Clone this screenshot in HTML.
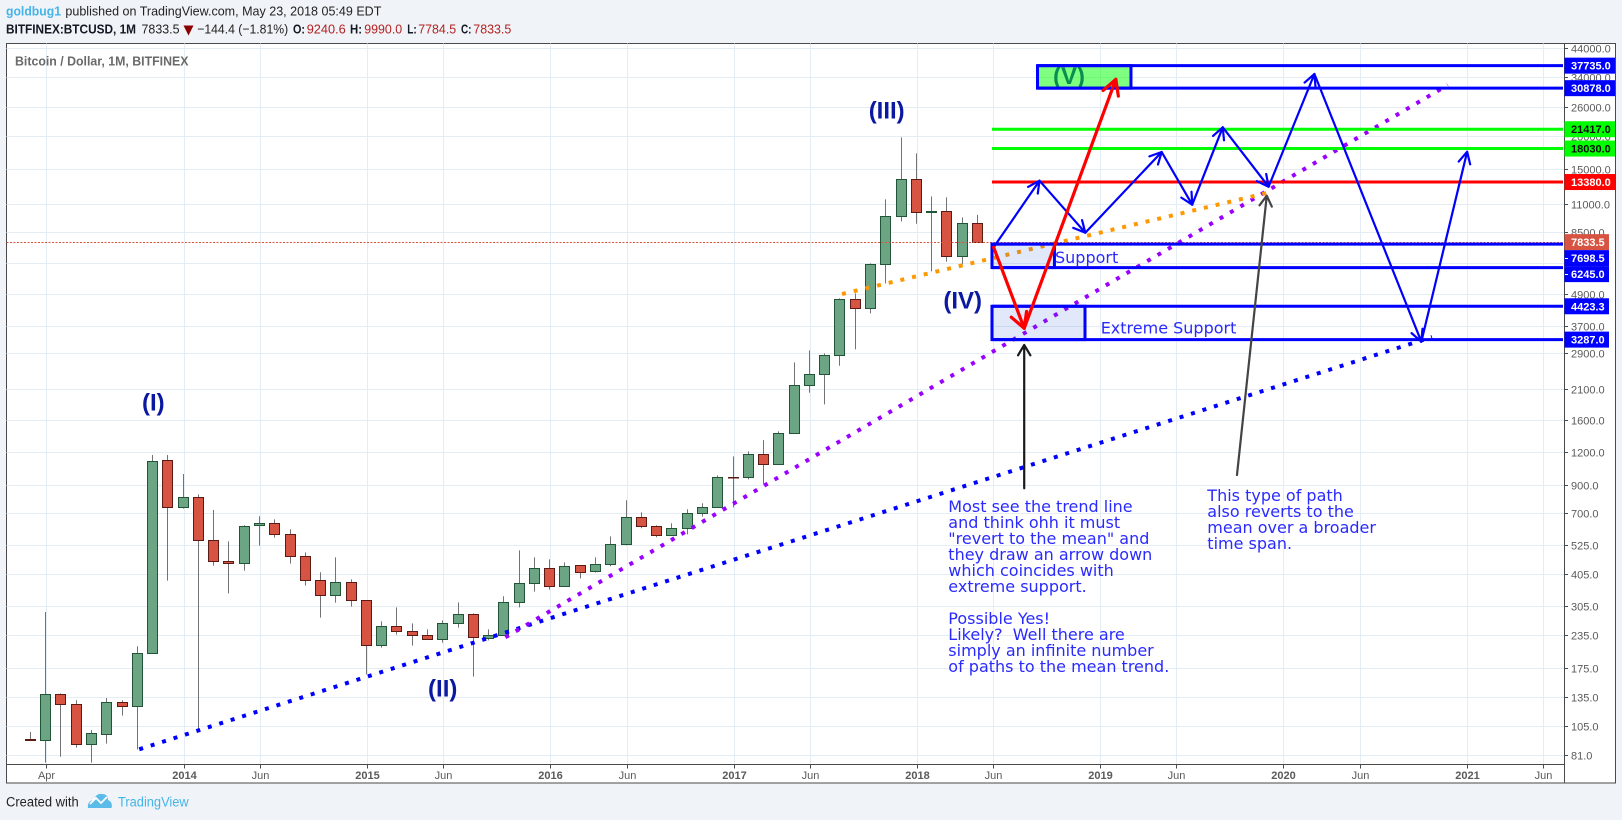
<!DOCTYPE html>
<html lang="en">
<head>
<meta charset="utf-8">
<title>BTCUSD monthly chart</title>
<style>
html,body{margin:0;padding:0;background:#f0f3f7;}
body{width:1622px;height:820px;overflow:hidden;}
svg{display:block;}
.hd{font-family:"Liberation Sans",sans-serif;font-size:13px;fill:#222;}
.hb{font-family:"Liberation Sans",sans-serif;font-size:13px;font-weight:bold;fill:#131722;}
.hr{font-family:"Liberation Sans",sans-serif;font-size:13px;fill:#b22222;}
.wave{font-family:"Liberation Sans",sans-serif;font-size:24px;font-weight:bold;fill:#0a18a2;text-anchor:middle;}
.note{font-family:"DejaVu Sans",sans-serif;font-size:16px;fill:#2a2aff;}
</style>
</head>
<body>
<svg id="chart" xmlns="http://www.w3.org/2000/svg" width="1622" height="820" viewBox="0 0 1622 820">
  <rect x="0" y="0" width="1622" height="820" fill="#f0f3f7"/>

  <g>
    <text x="6" y="15.7" textLength="55" lengthAdjust="spacingAndGlyphs" font-family="Liberation Sans, sans-serif" font-size="13" font-weight="bold" fill="#46b4e8">goldbug1</text>
    <text class="hd" x="65.4" y="15.7" textLength="316" lengthAdjust="spacingAndGlyphs">published on TradingView.com, May 23, 2018 05:49 EDT</text>
    <text class="hb" x="6" y="33.7" textLength="130" lengthAdjust="spacingAndGlyphs">BITFINEX:BTCUSD, 1M</text>
    <text class="hd" x="141.5" y="33.7" textLength="38" lengthAdjust="spacingAndGlyphs">7833.5</text>
    <polygon points="183.5,25.5 193.5,25.5 188.5,35.5" fill="#8b0000"/>
    <text class="hd" x="197.2" y="33.7" textLength="91" lengthAdjust="spacingAndGlyphs">−144.4 (−1.81%)</text>
    <text class="hb" x="293" y="33.7" textLength="12" lengthAdjust="spacingAndGlyphs">O:</text>
    <text class="hr" x="306.7" y="33.7" textLength="39" lengthAdjust="spacingAndGlyphs">9240.6</text>
    <text class="hb" x="350" y="33.7" textLength="12" lengthAdjust="spacingAndGlyphs">H:</text>
    <text class="hr" x="364.2" y="33.7" textLength="38" lengthAdjust="spacingAndGlyphs">9990.0</text>
    <text class="hb" x="407.2" y="33.7" textLength="9.5" lengthAdjust="spacingAndGlyphs">L:</text>
    <text class="hr" x="418.2" y="33.7" textLength="38" lengthAdjust="spacingAndGlyphs">7784.5</text>
    <text class="hb" x="461" y="33.7" textLength="10.5" lengthAdjust="spacingAndGlyphs">C:</text>
    <text class="hr" x="473.3" y="33.7" textLength="38" lengthAdjust="spacingAndGlyphs">7833.5</text>
  </g>

  <rect x="6.5" y="43.5" width="1609" height="739.5" fill="#ffffff" stroke="#4a4a4a" stroke-width="1"/>

  <g id="grid"></g>

  <text x="15" y="65.3" textLength="173.5" lengthAdjust="spacingAndGlyphs" font-family="Liberation Sans, sans-serif" font-size="13" font-weight="bold" fill="#6a6a6a">Bitcoin / Dollar, 1M, BITFINEX</text>

  <g id="candles"></g>
  <g id="priceLine"></g>
  <g id="trends"></g>

  <text class="wave" x="1069" y="84" style="fill:#0c1ea0">(V)</text>

  <g id="zones"></g>
  <g id="levels"></g>
  <g id="arrows"></g>

  <g>
    <text class="wave" x="153.3" y="410.5">(I)</text>
    <text class="wave" x="442.7" y="696.5">(II)</text>
    <text class="wave" x="886.7" y="118.5">(III)</text>
    <text class="wave" x="962.7" y="308.5">(IV)</text>
  </g>

  <g>
    <text class="note" x="1055" y="263">Support</text>
    <text class="note" x="1100.7" y="333.3">Extreme Support</text>
    <g>
      <text class="note" x="948.3" y="512">Most see the trend line</text>
      <text class="note" x="948.3" y="528">and think ohh it must</text>
      <text class="note" x="948.3" y="544">"revert to the mean" and</text>
      <text class="note" x="948.3" y="560">they draw an arrow down</text>
      <text class="note" x="948.3" y="576">which coincides with</text>
      <text class="note" x="948.3" y="592">extreme support.</text>
      <text class="note" x="948.3" y="624">Possible Yes!</text>
      <text class="note" x="948.3" y="640" xml:space="preserve">Likely?  Well there are</text>
      <text class="note" x="948.3" y="656">simply an infinite number</text>
      <text class="note" x="948.3" y="672">of paths to the mean trend.</text>
    </g>
    <g>
      <text class="note" x="1207.3" y="501">This type of path</text>
      <text class="note" x="1207.3" y="517">also reverts to the</text>
      <text class="note" x="1207.3" y="533">mean over a broader</text>
      <text class="note" x="1207.3" y="549">time span.</text>
    </g>
  </g>

  <g id="axes"></g>
  <g id="badges"></g>

  <g>
    <text x="6" y="806.7" textLength="72.7" lengthAdjust="spacingAndGlyphs" font-family="Liberation Sans, sans-serif" font-size="13.5" fill="#222">Created with</text>
    <g>
      <path d="M88 808 Q87 801 94 800 Q96 793 102 794 Q108 794 108 800 Q113 802 111.5 808 Z" fill="#5bbbe9"/>
      <path d="M90 804 L96 798 L101 803 L107 797" fill="none" stroke="#ffffff" stroke-width="1.8"/>
    </g>
    <text x="118" y="806.7" textLength="70.7" lengthAdjust="spacingAndGlyphs" font-family="Liberation Sans, sans-serif" font-size="13.5" fill="#46b4e8">TradingView</text>
  </g>
</svg>

<script>
// ---- Candle data (monthly, BITFINEX:BTCUSD) ----
const months = ['Mar 2013','Apr 2013','May 2013','Jun 2013','Jul 2013','Aug 2013','Sep 2013','Oct 2013','Nov 2013','Dec 2013',
 'Jan 2014','Feb 2014','Mar 2014','Apr 2014','May 2014','Jun 2014','Jul 2014','Aug 2014','Sep 2014','Oct 2014','Nov 2014','Dec 2014',
 'Jan 2015','Feb 2015','Mar 2015','Apr 2015','May 2015','Jun 2015','Jul 2015','Aug 2015','Sep 2015','Oct 2015','Nov 2015','Dec 2015',
 'Jan 2016','Feb 2016','Mar 2016','Apr 2016','May 2016','Jun 2016','Jul 2016','Aug 2016','Sep 2016','Oct 2016','Nov 2016','Dec 2016',
 'Jan 2017','Feb 2017','Mar 2017','Apr 2017','May 2017','Jun 2017','Jul 2017','Aug 2017','Sep 2017','Oct 2017','Nov 2017','Dec 2017',
 'Jan 2018','Feb 2018','Mar 2018','Apr 2018','May 2018'];
const opens = [93.4,92.6,139.4,127.6,89.3,97.6,129.9,125.3,201,1121.5,
 737.8,806.6,549.8,456.1,448,628.5,639.8,580,476.8,385,336.9,378.2,
 322.2,215.8,255.6,244.5,235.9,227.6,262.5,284.4,229.7,235.9,316.5,374.9,
 428.5,365,440.1,417.2,444,530.5,675,622.9,574.9,612,699.4,737.8,
 966,963.3,1182,1081.5,1425.6,2186,2411,2856,4703,4341,6424,9852,
 13698,10209,10301,6899,9240.6];
const highs = [99.7,290.4,140.7,132.2,101.5,135,132.2,213.9,1176,1176,
 992.9,828.4,720.4,545,628.5,681,663,606.5,494,413.5,472.6,388.4,
 322.2,267.2,302.7,262.5,248.8,269.6,316.5,286.9,248.8,333.9,503,472.6,
 464.2,452,440.1,472.6,569.8,785.3,705.6,628.5,639.8,724.8,764.6,981.1,
 1162,1214,1343,1451,2683,2986,2907,4746,4962,6482,11462,19912,
 17269,11773,11669,9764,9990];
const lows = [92.3,75.9,80,86.7,75.9,89.9,115.3,85.4,201,383.9,
 729,101.5,438.8,342.9,419.7,524.3,563,446.7,367.2,276.1,315.6,304.5,
 166.6,211.4,237.3,215.1,227.6,221,252.6,163.2,225.6,235.9,302.7,348,
 354.3,365,391.9,412.2,436.2,525.8,612,564.8,574.9,580,679,737.8,
 737.8,946,905,1081.5,1425.6,2048,1846,2605,3013,4152,5424,9424,
 9229,6035,6579,6424,7784.5];
const closes = [92.3,139.4,127.6,89.3,98.5,129.9,125.3,201,1111.6,737.8,
 806.6,549.8,456.1,448,622.9,639.8,580,476.8,385,336.9,378.2,322.2,
 215.8,255.6,244.5,235.9,227.6,262.5,284.4,231.8,235.9,316.5,374.9,428.5,
 365,436.2,413.5,444,530.5,675,622.9,574.9,612,699.4,737.8,963.8,
 961,1182,1081.5,1425.6,2186,2411,2856,4703,4341,6424,9852,13698,
 10209,10331,6899,9240.6,7833.5];

// ---- Axis labels ----
const priceTicks = [44000,34000,26000,20000,15000,11000,8500,6500,4900,3700,2900,2100,1600,1200,900,700,525,405,305,235,175,135,105,81];
const timeTickMonths = [1,10,15,22,27,34,39,46,51,58,63,70,75,82,87,94,99];
const timeTickLabels = ['Apr','2014','Jun','2015','Jun','2016','Jun','2017','Jun','2018','Jun','2019','Jun','2020','Jun','2021','Jun'];

// ---- Horizontal price levels and their kinds ----
const levelPrices = [37735,30878,21417,18030,13380,7698.5,6245,4423.3,3287];
const levelKinds = ['blue','blue','green','green','red','blue','blue','blue','blue'];
const levelStartMonths = [65.87,65.87,62.89,62.89,62.89,62.89,62.89,62.89,62.89];
const lastPrice = 7833.5;

// ---- Zones (month range, price range) ----
const zoneStartMonths = [65.87,62.89,62.89];
const zoneEndMonths = [71.99,66.98,68.98];
const zoneTopPrices = [37735,7698.5,4423.3];
const zoneBottomPrices = [30878,6245,3287];
const zoneKinds = ['target','support','support'];
const zoneNames = ['wave-v-target-zone','support-zone','extreme-support-zone'];

// ---- Dotted trend lines (month, price endpoints) ----
const trendStartMonths = [7.06,31.03,53.07];
const trendStartPrices = [85.45,231.7,4934];
const trendEndMonths = [91.7,92.73,81.35];
const trendEndPrices = [3364,31760,12319];
const trendNames = ['long-term-trend-line','mean-trend-line','short-term-trend-line'];

// ---- Projected paths (month, price vertices) ----
const bluePathMonths = [63,66,69,74,76,78,81,84,91,94];
const bluePathPrices = [7480,13540,8520,17484,10933,21788,12835,35027,3226,17532];
const redPathMonths = [63,65,71];
const redPathPrices = [7480,3635,33413];
const blackArrowMonths = [65,65];
const blackArrowPrices = [874,3133];
const grayArrowMonths = [78.93,80.88];
const grayArrowPrices = [984,11846];

// ---- Axis functions ----
function xScale(m){ return 31.4 + 15.274 * m; }
function yScale(p){ return 755.3 - 112.25 * Math.log(p / 81); }
function snap(v){ return Math.round(v - 0.5) + 0.5; }

const NS = 'http://www.w3.org/2000/svg';
function add(parentId, tag, attrs, text){
  const el = document.createElementNS(NS, tag);
  for (const k in attrs) el.setAttribute(k, attrs[k]);
  if (text !== undefined) el.textContent = text;
  document.getElementById(parentId).appendChild(el);
  return el;
}

const PLOT_LEFT = 6.5, PLOT_RIGHT = 1564, PLOT_TOP = 43.5, PLOT_BOTTOM = 764.5;
const GRID = '#e4edf3', AXIS = '#4a4a4a', LABEL = '#5a5a5a';
const FONT = '"Liberation Sans", sans-serif';

// Grid lines
priceTicks.forEach(function(p){
  const y = snap(yScale(p));
  const l = add('grid', 'line', {x1: PLOT_LEFT, x2: PLOT_RIGHT, y1: y, y2: y, stroke: GRID, 'stroke-width': 1});
  
  
});
timeTickMonths.forEach(function(m){
  const x = snap(xScale(m));
  const l = add('grid', 'line', {x1: x, x2: x, y1: PLOT_TOP, y2: PLOT_BOTTOM, stroke: GRID, 'stroke-width': 1});
  
  
});

// Candles
months.forEach(function(name, i){
  const cx = xScale(i) - 1;
  const wx = snap(cx);
  const up = closes[i] >= opens[i];
  const fill = up ? '#6ba583' : '#d75442';
  const border = up ? '#225437' : '#5b1a13';
  const wick = add('candles', 'line', {x1: wx, x2: wx, y1: yScale(highs[i]), y2: yScale(lows[i]), stroke: '#737375', 'stroke-width': 1});
  
  
  const top = snap(yScale(Math.max(opens[i], closes[i])));
  const bot = snap(yScale(Math.min(opens[i], closes[i])));
  const body = add('candles', 'rect', {x: wx - 5, y: top, width: 10, height: Math.max(bot - top, 0.5), fill: fill, stroke: border, 'stroke-width': 1});
  
  
});

// Last price line
const lpY = snap(yScale(lastPrice));
const lp = add('priceLine', 'line', {x1: PLOT_LEFT, x2: PLOT_RIGHT, y1: lpY, y2: lpY, stroke: '#d75442', 'stroke-width': 1, 'stroke-dasharray': '2 1.5'});



// Trend lines
const trendColors = ['#0000ff', '#9900ff', '#ff9800'];
trendNames.forEach(function(name, i){
  const t = add('trends', 'line', {
    x1: xScale(trendStartMonths[i]), y1: yScale(trendStartPrices[i]),
    x2: xScale(trendEndMonths[i]), y2: yScale(trendEndPrices[i]),
    stroke: trendColors[i], 'stroke-width': 4, 'stroke-dasharray': '4 8'
  });
  
  
});

// Zones
const zoneFill = {target: 'rgba(0,255,0,0.5)', support: 'rgba(40,90,220,0.14)'};
zoneNames.forEach(function(name, i){
  const x0 = xScale(zoneStartMonths[i]), x1 = xScale(zoneEndMonths[i]);
  const y0 = yScale(zoneTopPrices[i]), y1 = yScale(zoneBottomPrices[i]);
  const z = add('zones', 'rect', {x: x0, y: y0, width: x1 - x0, height: y1 - y0, fill: zoneFill[zoneKinds[i]], stroke: '#0000ff', 'stroke-width': 3});
  
  
});

// Level lines
const levelPalette = {blue: '#0000ff', green: '#00ff00', red: '#ff0000'};
levelPrices.forEach(function(p, i){
  const y = yScale(p);
  const l = add('levels', 'line', {x1: xScale(levelStartMonths[i]), x2: PLOT_RIGHT - 1, y1: y, y2: y, stroke: levelPalette[levelKinds[i]], 'stroke-width': 3});
  
  
});

// Arrows
function drawSegment(mx, px, color, width, headLen, headAngle, name){
  for (let i = 1; i < mx.length; i++){
    const x0 = xScale(mx[i - 1]), y0 = yScale(px[i - 1]);
    const x1 = xScale(mx[i]), y1 = yScale(px[i]);
    const a = Math.atan2(y0 - y1, x0 - x1);
    const ax = x1 + headLen * Math.cos(a + headAngle), ay = y1 + headLen * Math.sin(a + headAngle);
    const bx = x1 + headLen * Math.cos(a - headAngle), by = y1 + headLen * Math.sin(a - headAngle);
    const d = 'M' + x0 + ' ' + y0 + ' L' + x1 + ' ' + y1 + ' M' + ax + ' ' + ay + ' L' + x1 + ' ' + y1 + ' L' + bx + ' ' + by;
    const seg = add('arrows', 'path', {d: d, fill: 'none', stroke: color, 'stroke-width': width, 'stroke-linecap': 'round', 'stroke-linejoin': 'round'});
    
    
  }
}
drawSegment(bluePathMonths, bluePathPrices, '#0000ff', 2.2, 13, 0.47, 'blue-path-arrow');
drawSegment(blackArrowMonths, blackArrowPrices, '#1a1a1a', 2.2, 12, 0.54, 'black-pointer-arrow');
drawSegment(grayArrowMonths, grayArrowPrices, '#444444', 2.2, 12, 0.54, 'gray-pointer-arrow');
drawSegment(redPathMonths, redPathPrices, '#ff0000', 3.2, 17, 0.5, 'red-path-arrow');

// Axis frame lines
const ax1 = add('axes', 'line', {x1: PLOT_RIGHT + 0.5, x2: PLOT_RIGHT + 0.5, y1: PLOT_TOP, y2: 783, stroke: AXIS, 'stroke-width': 1});


const ax2 = add('axes', 'line', {x1: PLOT_LEFT, x2: 1565, y1: PLOT_BOTTOM, y2: PLOT_BOTTOM, stroke: AXIS, 'stroke-width': 1});



// Price tick labels
priceTicks.forEach(function(p){
  const y = snap(yScale(p));
  const tk = add('axes', 'line', {x1: PLOT_RIGHT, x2: PLOT_RIGHT + 4, y1: y, y2: y, stroke: AXIS, 'stroke-width': 1});
  
  
  const t = add('axes', 'text', {x: 1571, y: y + 4, 'font-family': FONT, 'font-size': 11, fill: LABEL}, p.toFixed(1));
  
  
});

// Time tick labels
timeTickMonths.forEach(function(m, i){
  const x = snap(xScale(m));
  const tk = add('axes', 'line', {x1: x, x2: x, y1: PLOT_BOTTOM, y2: PLOT_BOTTOM + 4, stroke: AXIS, 'stroke-width': 1});
  
  
  const isYear = /^\d+$/.test(timeTickLabels[i]);
  const t = add('axes', 'text', {x: x, y: 779, 'font-family': FONT, 'font-size': 11, 'font-weight': isYear ? 'bold' : 'normal', fill: LABEL, 'text-anchor': 'middle'}, timeTickLabels[i]);
  
  
});

// Price badges, stacked so they never overlap
const badgeStyle = {
  blue: {fill: '#0000ff', text: '#ffffff'},
  green: {fill: '#00ff00', text: '#0a0a0a'},
  red: {fill: '#ff0000', text: '#ffffff'},
  last: {fill: '#d75442', text: '#ffffff'}
};
const badgeItems = levelPrices.map(function(p, i){ return {price: p, kind: levelKinds[i], label: p.toFixed(1)}; });
badgeItems.push({price: lastPrice, kind: 'last', label: lastPrice.toFixed(1)});
badgeItems.sort(function(a, b){ return b.price - a.price; });
let badgeBottom = -Infinity;
badgeItems.forEach(function(b){
  const h = 16;
  const natural = yScale(b.price);
  const cy = Math.max(natural, badgeBottom + h / 2);
  badgeBottom = cy + h / 2;
  const w = b.label.length >= 7 ? 51 : 45;
  const style = badgeStyle[b.kind];
  const r = add('badges', 'rect', {x: PLOT_RIGHT + 0.5, y: cy - h / 2, width: w - 0.5, height: h, fill: style.fill});
  
  
  if (cy > natural + 1) {
    const tk = add('badges', 'line', {x1: PLOT_RIGHT + 1, x2: PLOT_RIGHT + 4, y1: snap(cy), y2: snap(cy), stroke: style.text, 'stroke-width': 1});
    
    
  }
  const t = add('badges', 'text', {x: 1571, y: cy + 4, 'font-family': FONT, 'font-size': 11, 'font-weight': 'bold', fill: style.text}, b.label);
  
  
});
</script>
</body>
</html>
